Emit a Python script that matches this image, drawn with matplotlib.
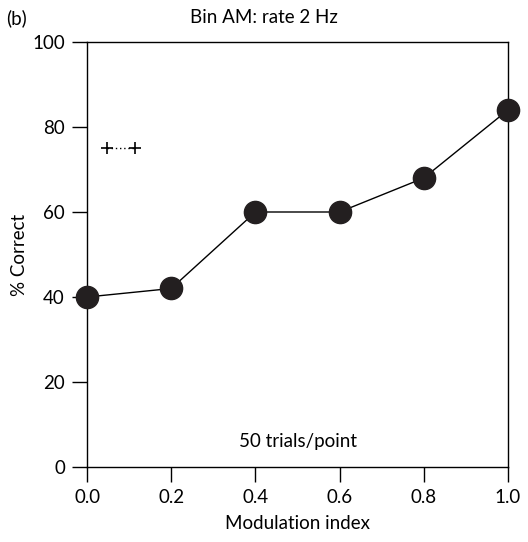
import matplotlib
matplotlib.use("Agg")
import matplotlib.pyplot as plt

plt.rcParams['font.family'] = ['Lato', 'DejaVu Sans']

mod_index = [0.0, 0.2, 0.4, 0.6, 0.8, 1.0]
pct_correct = [40, 42, 60, 60, 68, 84]
ref_x = [0.048, 0.114]
ref_y = [75, 75]
x_ticks = [0.0, 0.2, 0.4, 0.6, 0.8, 1.0]
y_ticks = [0, 20, 40, 60, 80, 100]

fs = 13.5

fig = plt.figure(figsize=(5.28, 5.42), dpi=100)
ax = fig.add_axes([0.165, 0.1384, 0.797, 0.7841])

ax.plot(mod_index, pct_correct, color='black', lw=1, marker='o', ms=16,
        mfc='#231f20', mec='#231f20', clip_on=False, zorder=3)
ax.plot(ref_x, ref_y, color='black', lw=1, ls=(0, (1, 2)), marker='+', ms=8, mew=1.2)

ax.set_xlim(0, 1)
ax.set_ylim(0, 100)
ax.set_xticks(x_ticks)
ax.set_xticklabels([f'{v:.1f}' for v in x_ticks])
ax.set_yticks(y_ticks)
ax.tick_params(direction='out', length=11, width=1, labelsize=fs, pad=5)
for s in ax.spines.values():
    s.set_linewidth(1)

ax.set_xlabel('Modulation index', fontsize=fs, labelpad=6)
ax.set_ylabel('% Correct', fontsize=fs, labelpad=3)
ax.text(0.5, 6, '50 trials/point', ha='center', va='center', fontsize=fs)
fig.text(0.5, 0.967, 'Bin AM: rate 2 Hz', ha='center', va='center', fontsize=fs)
fig.text(0.012, 0.967, '(b)', ha='left', va='center', fontsize=fs)

fig.savefig('out.png', dpi=100)
